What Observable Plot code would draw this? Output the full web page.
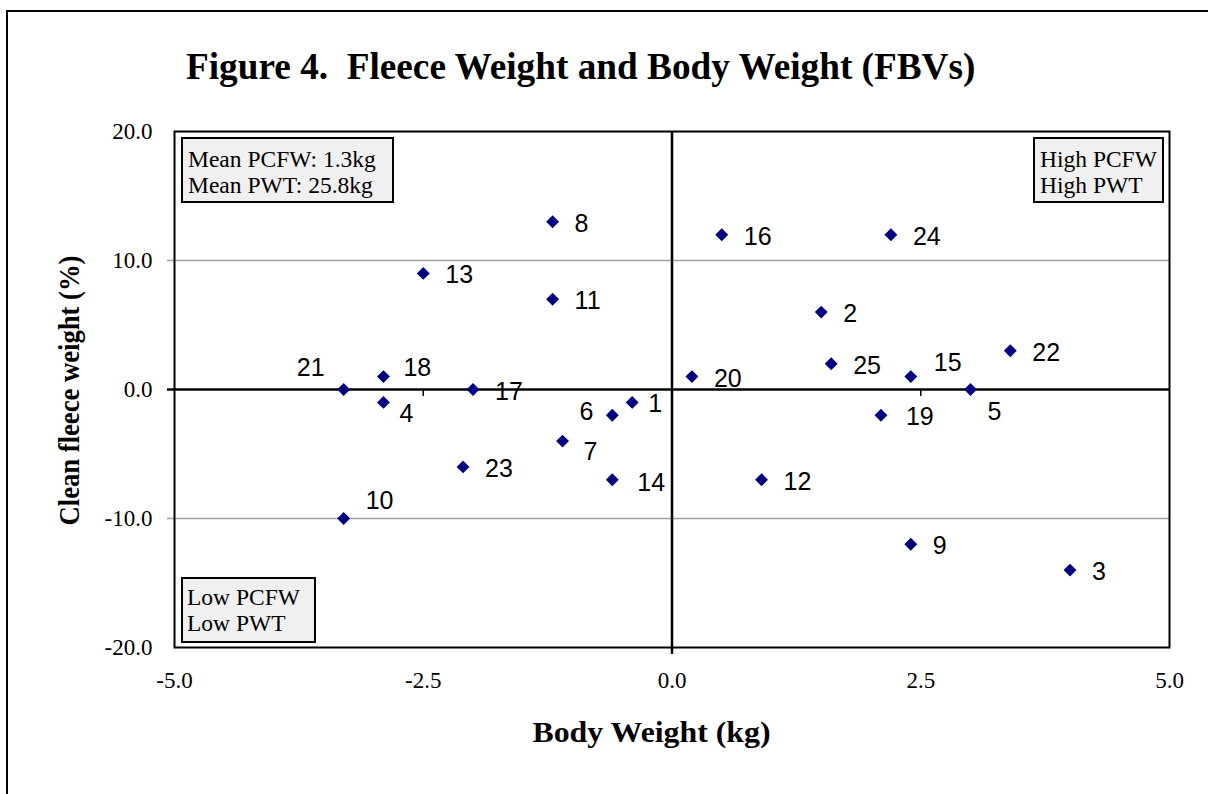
<!DOCTYPE html>
<html>
<head>
<meta charset="utf-8">
<script src="https://cdn.jsdelivr.net/npm/d3@7"></script>
<script src="https://cdn.jsdelivr.net/npm/@observablehq/plot@0.6"></script>
<style>
  html, body { margin: 0; padding: 0; background: #fff; }
  #page { position: relative; width: 1208px; height: 794px; overflow: hidden; background: #fff; }
  #border { position: absolute; left: 6px; top: 10px; width: 1400px; height: 1000px; border-top: 2px solid #000; border-left: 2px solid #000; pointer-events: none; }
  #chart { position: absolute; left: 0; top: 100px; }
  .txt { position: absolute; white-space: pre; font-family: "Liberation Serif", "Times New Roman", serif; font-weight: bold; color: #000; display: inline-block; }
  #title { font-size: 38px; }
  .axlabel { font-size: 29px; }
  .box { position: absolute; box-sizing: border-box; border: 2px solid #000; background: #f0f0f0;
         font-family: "Liberation Serif", "Times New Roman", serif; font-size: 23.5px; line-height: 26px; color: #000; white-space: pre; }
</style>
</head>
<body>
<div id="page">
  <div id="chart"></div>
  <div id="border"></div>
  <span id="title" class="txt">Figure 4.  Fleece Weight and Body Weight (FBVs)</span>
  <span id="xlabel" class="txt axlabel">Body Weight (kg)</span>
  <span id="ylabel" class="txt axlabel">Clean fleece weight (%)</span>
  <div class="box" style="left:181px;top:137px;width:213px;height:66px;padding:7px 0 0 5px;">Mean PCFW: 1.3kg
Mean PWT: 25.8kg</div>
  <div class="box" style="left:1033px;top:137px;width:131px;height:66px;padding:7px 0 0 5px;">High PCFW
High PWT</div>
  <div class="box" style="left:181px;top:577px;width:135px;height:66px;padding:5px 0 0 4px;">Low PCFW
Low PWT</div>
</div>
<script>
// ---- data ----
const ids          = [1, 2, 3, 4, 5, 6, 7, 8, 9, 10, 11, 12, 13, 14, 15, 16, 17, 18, 19, 20, 21, 22, 23, 24, 25];
const bodyWeight   = [-0.4, 1.5, 4.0, -2.9, 3.0, -0.6, -1.1, -1.2, 2.4, -3.3, -1.2, 0.9, -2.5, -0.6, 2.4, 0.5, -2.0, -2.9, 2.1, 0.2, -3.3, 3.4, -2.1, 2.2, 1.6];
const fleeceWeight = [-1, 6, -14, -1, 0, -2, -4, 13, -12, -10, 7, -7, 9, -7, 1, 12, 0, 1, -2, 1, 0, 3, -6, 12, 2];
const xTicks = [-5, -2.5, 0, 2.5, 5];
const yTicks = [-20, -10, 0, 10, 20];
const yGrid  = [-10, 10];
const xMinorTicks = [-2.5, 2.5];

const points = ids.map((id, i) => ({id, x: bodyWeight[i], y: fleeceWeight[i]}));

// label placement (rendering only)
const defaultPlace = {dx: 22, dy: 2, anchor: "start"};
const placement = {
  21: {dx: -19, dy: -22, anchor: "end"},
  18: {dx: 20, dy: -9},
  4:  {dx: 16, dy: 12},
  6:  {dx: -19, dy: -3, anchor: "end"},
  1:  {dx: 16, dy: 2},
  7:  {dx: 21, dy: 11},
  10: {dx: 22, dy: -18},
  15: {dx: 23, dy: -14},
  5:  {dx: 17, dy: 22},
  14: {dx: 25, dy: 3},
  19: {dx: 25, dy: 2}
};

const fmt = d => d.toFixed(1);

const labelMarks = points.map(p => {
  const pl = Object.assign({}, defaultPlace, placement[p.id] || {});
  return Plot.text([p], {
    x: "x", y: "y", text: d => String(d.id),
    dx: pl.dx, dy: pl.dy, textAnchor: pl.anchor,
    fontFamily: "Liberation Sans, Arial, sans-serif", fontSize: 25, fill: "#000"
  });
});

const chart = Plot.plot({
  width: 1208,
  height: 680,
  marginLeft: 174,
  marginRight: 39,
  marginTop: 31,
  marginBottom: 133,
  style: {fontFamily: "Liberation Serif, Times New Roman, serif", fontSize: "23px", color: "#000", background: "transparent", overflow: "visible"},
  x: {domain: [-5, 5], ticks: xTicks, tickFormat: fmt, tickSize: 0, tickPadding: 24, label: null},
  y: {domain: [-20, 20], ticks: yTicks, tickFormat: fmt, tickSize: 0, tickPadding: 22, label: null},
  marks: [
    Plot.ruleY(yGrid, {stroke: "#a0a0a0", strokeWidth: 1.5, insetLeft: -7}),
    Plot.ruleY([0], {stroke: "#000", strokeWidth: 2.5, insetLeft: -7}),
    Plot.ruleX([0], {stroke: "#000", strokeWidth: 2.5, insetBottom: -7}),
    Plot.ruleX(xMinorTicks, {y1: 0, y2: 0, insetBottom: -7, stroke: "#000", strokeWidth: 1.5}),
    Plot.frame({stroke: "#000", strokeWidth: 2}),
    Plot.dot(points, {x: "x", y: "y", symbol: "diamond2", r: 5.8, fill: "#000080", stroke: "none"}),
    ...labelMarks
  ]
});
document.getElementById("chart").appendChild(chart);

function place(id, cx, cy, targetW, rotate) {
  const el = document.getElementById(id);
  const w = el.offsetWidth, h = el.offsetHeight;
  const s = targetW / w;
  el.style.left = (cx - w / 2) + "px";
  el.style.top = (cy - h / 2) + "px";
  el.style.transformOrigin = "50% 50%";
  el.style.transform = (rotate ? "rotate(-90deg) " : "") + "scaleX(" + s + ")";
}
place("title", 580.5, 66, 789, false);
place("xlabel", 651, 732, 238, false);
place("ylabel", 70, 390, 270, true);
</script>
</body>
</html>
